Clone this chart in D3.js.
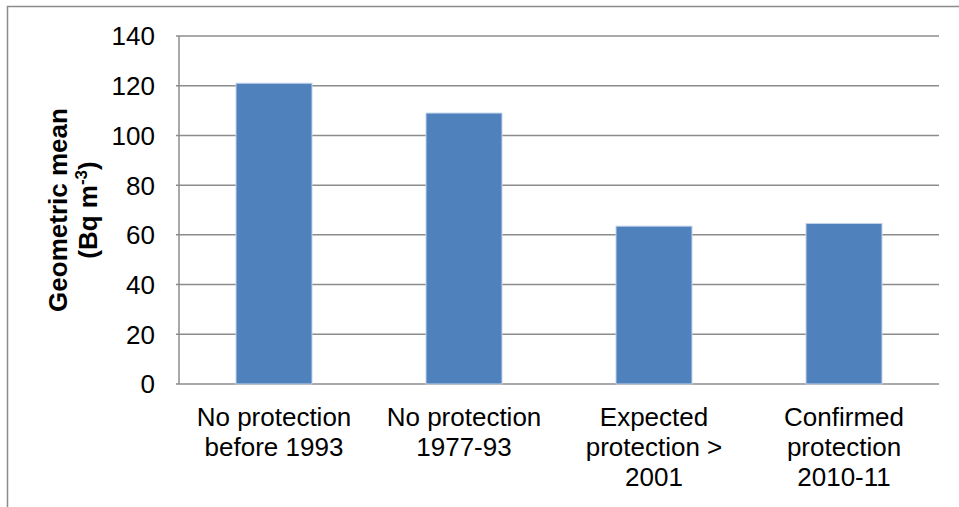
<!DOCTYPE html>
<html>
<head>
<meta charset="utf-8">
<script src="https://cdn.jsdelivr.net/npm/d3@7"></script>
<style>
  body { margin: 0; background: #fff; }
  text { font-family: "Liberation Sans", Arial, sans-serif; fill: #000; }
</style>
</head>
<body>
<div class="chart"></div>
<script>
const categories = [
  ['No protection', 'before 1993'],
  ['No protection', '1977-93'],
  ['Expected', 'protection >', '2001'],
  ['Confirmed', 'protection', '2010-11']
];
const values = [121, 109, 63.5, 64.6];
const yTicks = [0, 20, 40, 60, 80, 100, 120, 140];

const W = 959, H = 507;
const m = { top: 36, left: 179, right: 20, bottom: 123 };

const svg = d3.select('.chart').append('svg')
  .attr('width', W)
  .attr('height', H);

// outer chart border
svg.append('rect')
  .attr('x', 7.5).attr('y', 6.5)
  .attr('width', W + 10).attr('height', H + 10)
  .attr('fill', 'none')
  .attr('stroke', '#8c8c8c')
  .attr('stroke-width', 1.5);

const x = d3.scaleBand()
  .domain(d3.range(categories.length))
  .range([m.left, W - m.right])
  .paddingInner(0.6)
  .paddingOuter(0.3);

const y = d3.scaleLinear()
  .domain([0, 140])
  .range([H - m.bottom, m.top]);

// gridlines
svg.append('g')
  .selectAll('line')
  .data(yTicks)
  .join('line')
    .attr('x1', m.left - 3)
    .attr('x2', W - m.right)
    .attr('y1', d => y(d))
    .attr('y2', d => y(d))
    .attr('stroke', '#8c8c8c')
    .attr('stroke-width', 1.5);

// y axis line
svg.append('line')
  .attr('x1', m.left).attr('x2', m.left)
  .attr('y1', y(140)).attr('y2', y(0))
  .attr('stroke', '#8c8c8c')
  .attr('stroke-width', 1.5);

// bars
svg.append('g')
  .selectAll('rect')
  .data(values)
  .join('rect')
    .attr('x', (d, i) => x(i))
    .attr('width', x.bandwidth())
    .attr('y', d => y(d))
    .attr('height', d => y(0) - y(d))
    .attr('fill', '#4f81bd')
    .attr('stroke', '#c3d3ea')
    .attr('stroke-width', 1);

// y tick labels
svg.append('g')
  .selectAll('text')
  .data(yTicks)
  .join('text')
    .attr('x', 155)
    .attr('y', d => y(d))
    .attr('dy', '0.36em')
    .attr('text-anchor', 'end')
    .style('font-size', '26px')
    .text(d => d);

// category labels
const cat = svg.append('g')
  .selectAll('text')
  .data(categories)
  .join('text')
    .attr('text-anchor', 'middle')
    .style('font-size', '26px');

cat.selectAll('tspan')
  .data((d, i) => d.map(t => ({ t, i })))
  .join('tspan')
    .attr('x', d => x(d.i) + x.bandwidth() / 2)
    .attr('y', (d, j) => y(0) + 42 + j * 30)
    .text(d => d.t);

// y title
const title = svg.append('text')
  .attr('transform', `translate(0,${(y(0) + y(140)) / 2}) rotate(-90)`)
  .attr('text-anchor', 'middle')
  .style('font-size', '26px')
  .style('font-weight', 'bold');

title.append('tspan')
  .attr('x', 0).attr('y', 67)
  .text('Geometric mean');

const t2 = title.append('tspan')
  .attr('x', 0).attr('y', 97);
t2.append('tspan').text('(Bq m');
t2.append('tspan').attr('dy', -10).style('font-size', '17px').text('-3');
t2.append('tspan').attr('dy', 10).text(')');
</script>
</body>
</html>
